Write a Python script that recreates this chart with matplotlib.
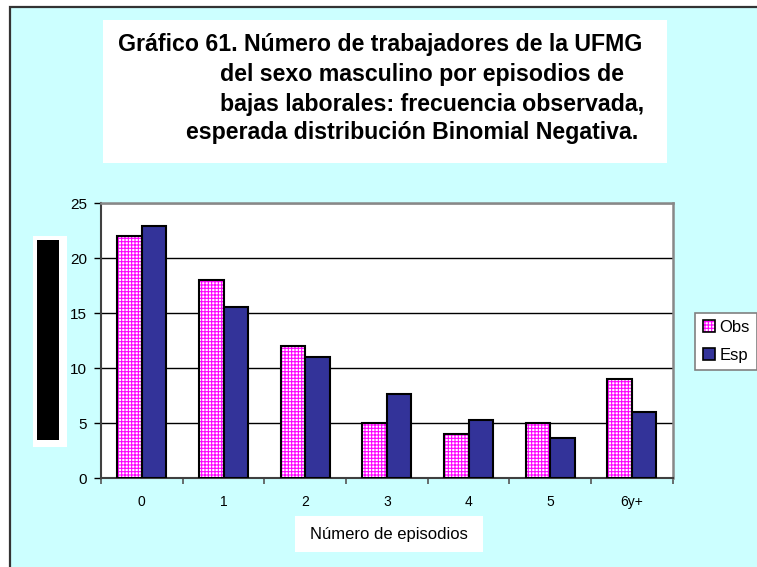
import matplotlib
matplotlib.use("Agg")
import matplotlib.pyplot as plt
from matplotlib.patches import Rectangle
import numpy as np

plt.rcParams['font.family'] = ['Liberation Sans', 'DejaVu Sans']
plt.rcParams['hatch.linewidth'] = 0.8

# Episode categories and frequencies
categories = ['0', '1', '2', '3', '4', '5', '6y+']
observed = [22, 18, 12, 5, 4, 5, 9]
expected = [22.9, 15.6, 11.0, 7.7, 5.3, 3.65, 6.0]
yticks = [0, 5, 10, 15, 20, 25]

title_lines = [
    'Gráfico 61. Número de trabajadores de la UFMG',
    'del sexo masculino por episodios de',
    'bajas laborales: frecuencia observada,',
    'esperada distribución Binomial Negativa.',
]

W, H = 757, 567
fig = plt.figure(figsize=(W / 100, H / 100), dpi=100, facecolor='white')


def fx(px):
    return px / W


def fy(py):
    return 1 - py / H


# Cyan chart area with dark frame
fig.patches.append(Rectangle((fx(10), -0.2), 1.2, fy(7) + 0.2, transform=fig.transFigure,
                             facecolor='#CCFFFF', edgecolor='#333333', linewidth=1.6, zorder=-2))

# Title box
fig.patches.append(Rectangle((fx(103), fy(163)), fx(667) - fx(103), fy(20) - fy(163),
                             transform=fig.transFigure, facecolor='white', edgecolor='none', zorder=-1))
title_pos = [(118, 45), (220, 75), (220, 104), (186, 133)]
for line, (x, y) in zip(title_lines, title_pos):
    fig.text(fx(x), fy(y), line, ha='left', va='center', fontsize=16.7,
             fontweight='bold', color='black', zorder=2)

# Y-axis title block
fig.patches.append(Rectangle((fx(33.3), fy(447)), fx(66.7) - fx(33.3), fy(236) - fy(447),
                             transform=fig.transFigure, facecolor='white', edgecolor='none', zorder=-1))
fig.patches.append(Rectangle((fx(36.7), fy(440)), fx(59.3) - fx(36.7), fy(240) - fy(440),
                             transform=fig.transFigure, facecolor='black', edgecolor='none', zorder=-0.5))

# Plot area
left, right, top, bottom = 101, 672.7, 203.3, 478.3
ax = fig.add_axes([fx(left), fy(bottom), fx(right) - fx(left), fy(top) - fy(bottom)], zorder=3)
ax.set_facecolor('white')

x = np.arange(len(categories))
bw = 0.3
b1 = ax.bar(x - bw / 2, observed, width=bw, facecolor='white', edgecolor='black',
            hatch='+++++', linewidth=1.5, label='Obs', zorder=3)
for p in b1:
    p._hatch_color = matplotlib.colors.to_rgba('#FF00FF')
b2 = ax.bar(x + bw / 2, expected, width=bw, facecolor='#333399', edgecolor='black',
            linewidth=1.5, label='Esp', zorder=3)

ax.set_xlim(-0.5, len(categories) - 0.5)
ax.set_ylim(0, 25)
ax.set_yticks(yticks)
ax.set_yticklabels([str(v) for v in yticks], fontsize=11)
ax.yaxis.grid(True, color='black', linewidth=1.0)
ax.set_axisbelow(True)

ax.set_xticks(np.arange(-0.5, len(categories)), minor=False)
ax.set_xticklabels([])
ax.set_xticks(x, minor=True)
ax.set_xticklabels(categories, minor=True, fontsize=10)
ax.tick_params(axis='x', which='minor', length=0, pad=12)
ax.tick_params(axis='x', which='major', length=4, direction='out', color='#555555', width=1.2)
ax.tick_params(axis='y', length=5, direction='out', color='black', width=1.0, pad=5)

for side in ['left', 'bottom']:
    ax.spines[side].set_color('#404040')
    ax.spines[side].set_linewidth(1.5)
for side in ['top', 'right']:
    ax.spines[side].set_color('#888888')
    ax.spines[side].set_linewidth(1.8)

# X-axis title box
fig.patches.append(Rectangle((fx(295), fy(552)), fx(483) - fx(295), fy(516) - fy(552),
                             transform=fig.transFigure, facecolor='white', edgecolor='none', zorder=-1))
fig.text(fx(389), fy(534), 'Número de episodios', ha='center', va='center', fontsize=12, zorder=2)

# Legend
leg = fig.legend(handles=[b1, b2], labels=['Obs', 'Esp'], loc='upper left',
                 bbox_to_anchor=(fx(695), fy(312.7)), borderaxespad=0, fontsize=12,
                 frameon=True, fancybox=False, edgecolor='#808080', framealpha=1,
                 handlelength=0.75, handleheight=0.75, handletextpad=0.25,
                 labelspacing=0.75, borderpad=0.45)
leg.get_frame().set_linewidth(1.2)
leg.set_zorder(5)
for h in leg.legend_handles:
    h.set_linewidth(1.2)

fig.savefig('out.png', dpi=100, facecolor='white')
